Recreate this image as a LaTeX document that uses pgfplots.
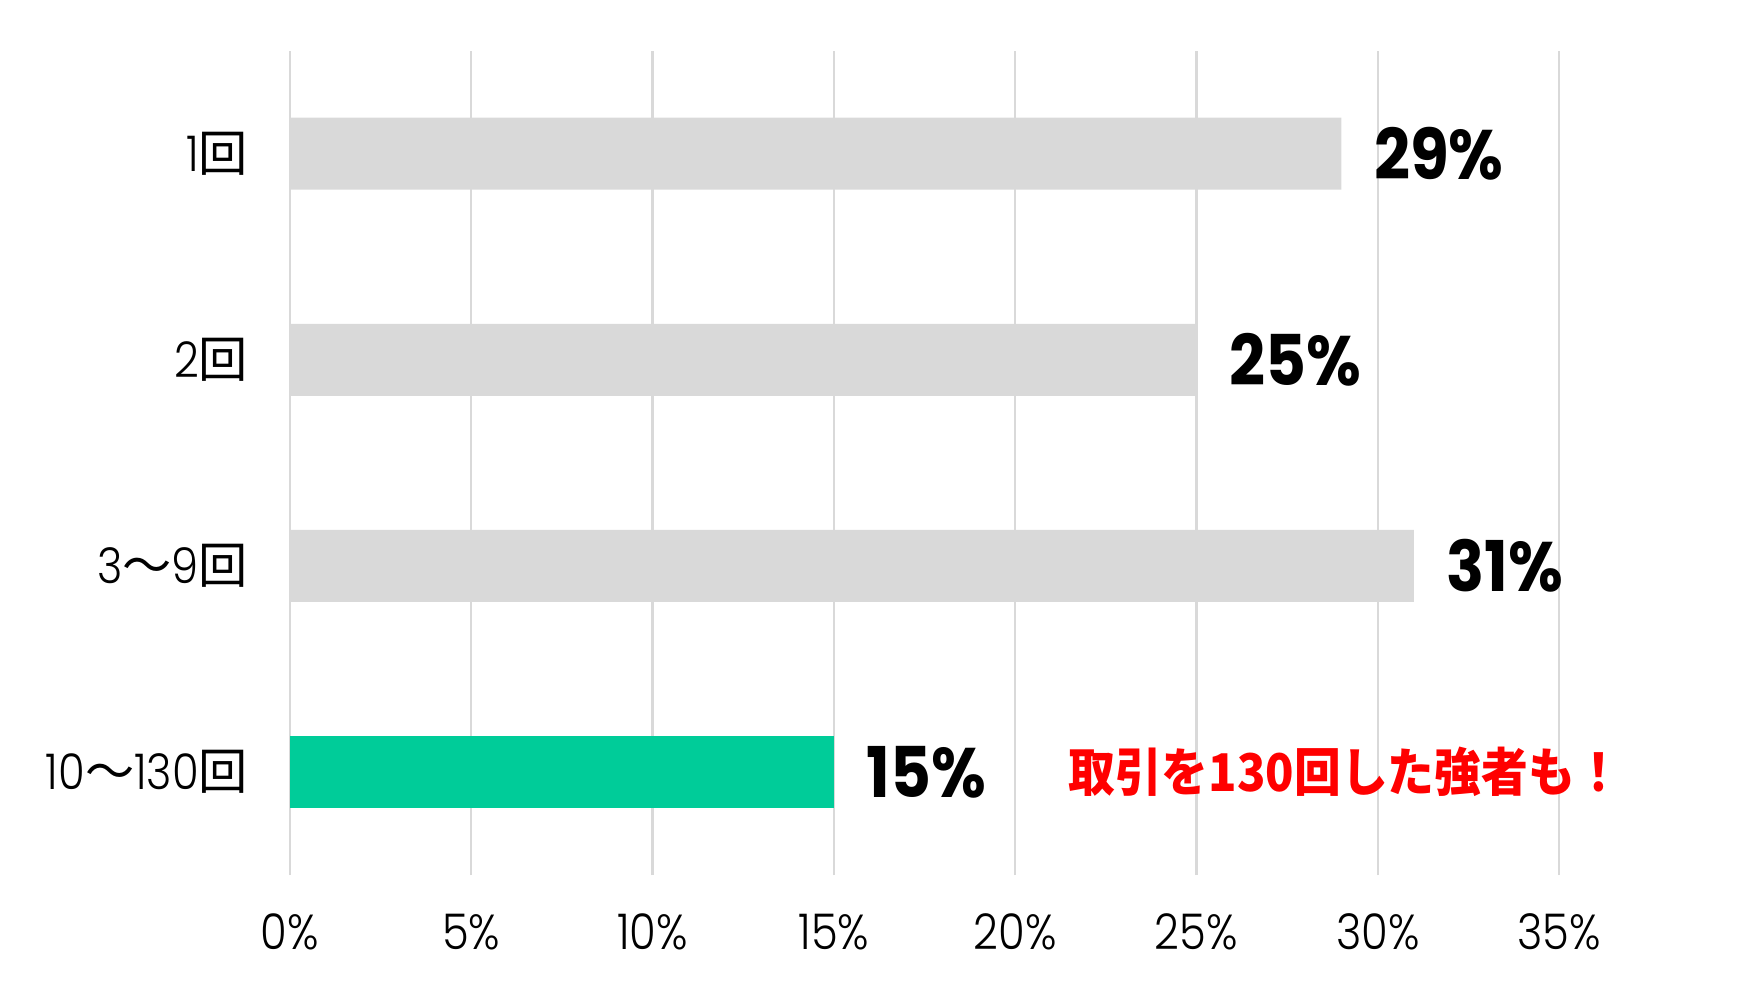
\documentclass[border=0pt]{standalone}
\usepackage{fontspec}
\usepackage{pgfplots}
\pgfplotsset{compat=1.18}
\setmainfont{Poppins}
\newfontfamily\tickfont[FakeStretch=0.88]{Poppins Light}
\newfontfamily\valfont[FakeStretch=0.9]{Poppins}
\newfontfamily\jpfont{Noto Sans CJK JP}
\newfontfamily\jpnarrow[FakeStretch=0.9]{Noto Sans CJK JP}

\definecolor{barGray}{HTML}{D9D9D9}
\definecolor{barGreen}{HTML}{00CC99}
\definecolor{gridGray}{HTML}{D9D9D9}
\definecolor{noteRed}{HTML}{FF0000}

\newcommand{\kai}{{\jpfont 回}}
\newcommand{\kara}{{\jpfont 〜}}

\begin{document}
\begin{tikzpicture}
\path[use as bounding box] (-72.5pt,-28.75pt) rectangle (365.75pt,218.75pt);
\begin{axis}[
  at={(0pt,0pt)}, anchor=south west,
  scale only axis,
  width=317.25pt, height=206.1pt,
  xbar, bar width=18pt, bar shift=0pt,
  xmin=0, xmax=35, ymin=-0.5, ymax=3.5,
  axis line style={draw=none},
  tick style={draw=none},
  xmajorgrids, grid style={draw=gridGray, line width=0.55pt},
  xtick={0,5,10,15,20,25,30,35},
  xticklabels={0\%,5\%,10\%,15\%,20\%,25\%,30\%,35\%},
  ytick={0,1,2,3},
  yticklabels={10\kara 130\kai,3\kara 9\kai,2\kai,1\kai},
  ticklabel style={font=\tickfont\fontsize{12.3}{13}\selectfont, inner sep=0pt},
  xticklabel style={anchor=center, yshift=-14.3pt},
  yticklabel style={anchor=east, xshift=-6pt},
  /pgf/number format/assume math mode=true,
  nodes near coords={\pgfmathprintnumber{\pgfplotspointmeta}\%},
  nodes near coords style={font=\valfont\bfseries\fontsize{17.5}{18}\selectfont,
    anchor=west, xshift=8pt, inner sep=0pt, text=black},
  clip=false,
]
\addplot[fill=barGray, draw=none] coordinates {(29,3) (25,2) (31,1)};
\addplot[fill=barGreen, draw=none] coordinates {(15,0)};
\node[text=noteRed, font=\jpnarrow\bfseries\fontsize{13}{13}\selectfont, inner sep=0pt]
  at (axis cs:29.1,0) {取引を130回した強者も！};
\end{axis}
\end{tikzpicture}
\end{document}
